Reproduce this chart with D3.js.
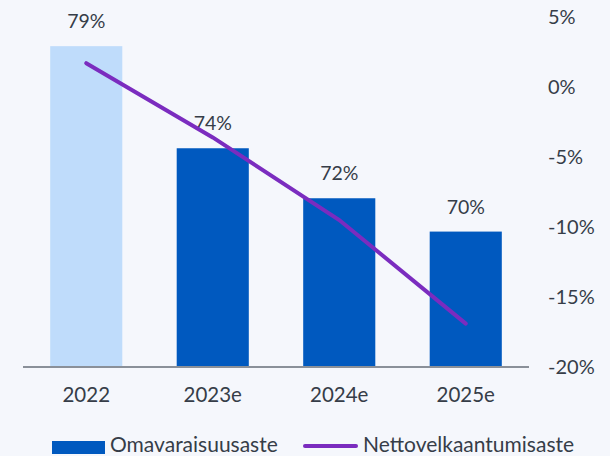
<!DOCTYPE html>
<html lang="fi">
  <head>
    <meta charset="UTF-8" />
    <title>Omavaraisuusaste ja nettovelkaantumisaste</title>
    <style>
      body { margin: 0; background: #f5f7fc; }
      svg { display: block; font-family: Lato, "Open Sans", sans-serif; }
    </style>
  </head>
  <body>
    <div id="chart"></div>

    <script src="https://cdn.jsdelivr.net/npm/d3@7"></script>
    <script>

      // data
      var years = ["2022", "2023e", "2024e", "2025e"];
      var equityRatio = [78.9, 74.0, 71.6, 70.0];       // Omavaraisuusaste, %
      var gearing = [1.7, -3.6, -9.5, -16.9];           // Nettovelkaantumisaste, %
      var rightTicks = [5, 0, -5, -10, -15, -20];

      var w = 610,
          h = 456;
      var margin = { top: 17, right: 81, bottom: 89, left: 23 };

      var svg = d3.select("#chart").append("svg")
        .attr("width", w)
        .attr("height", h);

      svg.append("rect")
         .attr("width", w)
         .attr("height", h)
         .attr("fill", "#f5f7fc");

      var xScale = d3.scaleBand()
                     .domain(years)
                     .range([margin.left, w - margin.right])
                     .paddingInner(0.43)
                     .paddingOuter(0.215);

      // bars use a hidden left scale
      var yBar = d3.scaleLinear()
                   .domain([63.5, 80.3])
                   .range([h - margin.bottom, margin.top]);

      var yLine = d3.scaleLinear()
                    .domain([-20, 5])
                    .range([h - margin.bottom, margin.top]);

      // bars
      svg.selectAll(".bar")
         .data(years)
         .enter()
         .append("rect")
         .attr("class", "bar")
         .attr("x", function(d) { return xScale(d); })
         .attr("y", function(d, i) { return yBar(equityRatio[i]); })
         .attr("width", xScale.bandwidth())
         .attr("height", function(d, i) { return yBar.range()[0] - yBar(equityRatio[i]); })
         .attr("fill", function(d, i) { return i == 0 ? "#bfdcfb" : "#0059bf"; });

      svg.selectAll(".barLabel")
         .data(years)
         .enter()
         .append("text")
         .attr("class", "barLabel")
         .attr("x", function(d) { return xScale(d) + xScale.bandwidth() / 2; })
         .attr("y", function(d, i) { return yBar(equityRatio[i]) - 18; })
         .attr("text-anchor", "middle")
         .attr("font-size", 19.5)
         .attr("fill", "#363d48")
         .text(function(d, i) { return Math.round(equityRatio[i]) + "%"; });

      // baseline
      svg.append("line")
         .attr("x1", margin.left)
         .attr("x2", w - margin.right)
         .attr("y1", h - margin.bottom)
         .attr("y2", h - margin.bottom)
         .attr("stroke", "#8a9099")
         .attr("stroke-width", 2);

      // x axis labels
      var xAxis = d3.axisBottom(xScale).tickSize(0).tickPadding(20);
      var gx = svg.append("g")
         .attr("class", "x-axis")
         .attr("transform", "translate(0," + (h - margin.bottom) + ")")
         .call(xAxis);
      gx.select(".domain").remove();
      gx.selectAll("text")
        .attr("font-size", 20.5)
        .attr("font-family", "Lato, sans-serif")
        .attr("fill", "#363d48");

      // right axis labels
      var yAxis = d3.axisRight(yLine)
                    .tickValues(rightTicks)
                    .tickSize(0)
                    .tickPadding(0)
                    .tickFormat(function(d) { return d + "%"; });
      var gy = svg.append("g")
         .attr("class", "y-axis")
         .attr("transform", "translate(548,0)")
         .call(yAxis);
      gy.select(".domain").remove();
      gy.selectAll("text")
        .attr("font-size", 20)
        .attr("font-family", "Lato, sans-serif")
        .attr("fill", "#363d48");

      // gearing line
      var line = d3.line()
                   .x(function(d, i) { return xScale(years[i]) + xScale.bandwidth() / 2; })
                   .y(function(d) { return yLine(d); });
      svg.append("path")
         .datum(gearing)
         .attr("d", line)
         .attr("fill", "none")
         .attr("stroke", "#7b2cbf")
         .attr("stroke-width", 4)
         .attr("stroke-linecap", "round");

      // legend
      var legend = svg.append("g").attr("transform", "translate(0,446)");
      legend.append("rect")
            .attr("x", 52)
            .attr("y", -5)
            .attr("width", 53)
            .attr("height", 13)
            .attr("fill", "#0059bf");
      legend.append("text")
            .attr("x", 110)
            .attr("y", 6)
            .attr("font-size", 21)
            .attr("fill", "#363d48")
            .text("Omavaraisuusaste");
      legend.append("line")
            .attr("x1", 305)
            .attr("x2", 356)
            .attr("y1", 0)
            .attr("y2", 0)
            .attr("stroke", "#7b2cbf")
            .attr("stroke-width", 4)
            .attr("stroke-linecap", "round");
      legend.append("text")
            .attr("x", 363)
            .attr("y", 6)
            .attr("font-size", 21)
            .attr("fill", "#363d48")
            .text("Nettovelkaantumisaste");

    </script>
  </body>
</html>
